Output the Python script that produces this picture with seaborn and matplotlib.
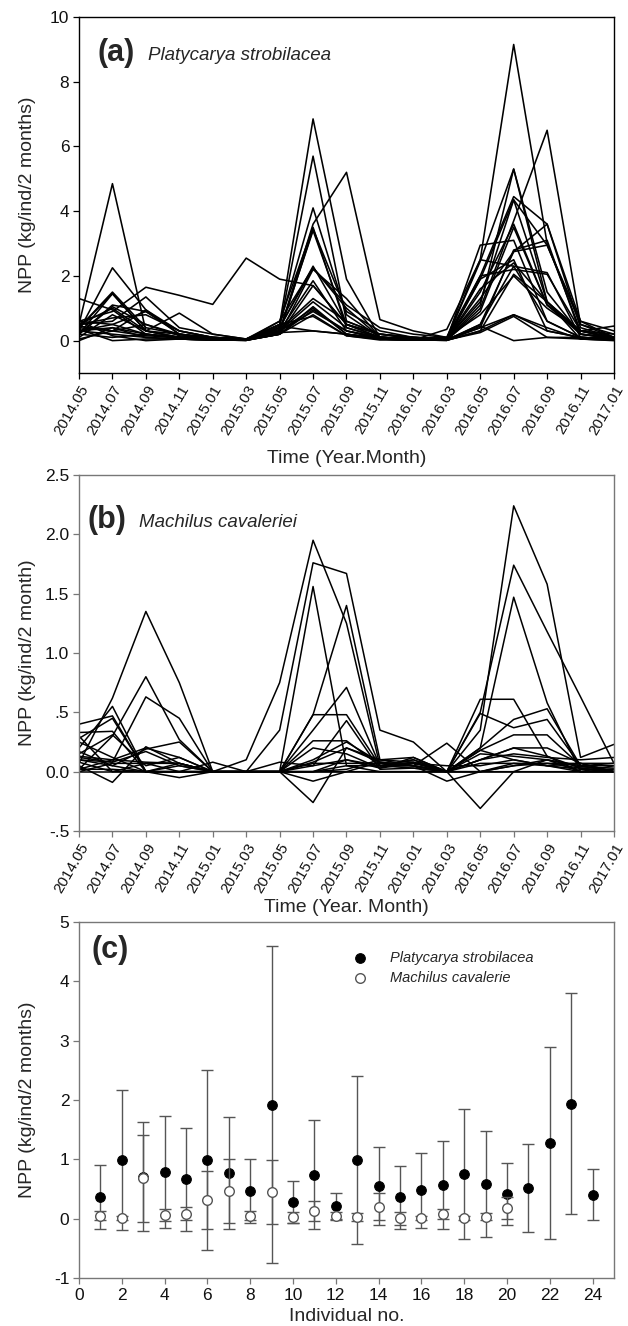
import pandas as pd
import matplotlib
matplotlib.use('Agg')
import matplotlib.pyplot as plt
import seaborn as sns

sns.set_theme(style='ticks')
plt.rcParams['font.family'] = ['Liberation Sans', 'DejaVu Sans']
plt.rcParams['axes.unicode_minus'] = False

# time axis (every 2 months)
months = ['2014.05', '2014.07', '2014.09', '2014.11', '2015.01', '2015.03',
          '2015.05', '2015.07', '2015.09', '2015.11', '2016.01', '2016.03',
          '2016.05', '2016.07', '2016.09', '2016.11', '2017.01']

# (a) Platycarya strobilacea, NPP per individual (kg/ind/2 months)
platy_npp = [
    [0.30, 0.50, 0.20, 0.10, 0.05, 0.02, 0.30, 0.90, 0.30, 0.10, 0.05, 0.02, 0.50, 2.30, 0.60, 0.10, 0.05],
    [0.50, 4.85, 0.30, 0.10, 0.05, 0.02, 0.60, 3.50, 0.40, 0.10, 0.05, 0.02, 1.90, 4.35, 1.20, 0.20, 0.10],
    [0.60, 0.90, 1.65, 1.40, 1.12, 2.55, 1.90, 1.70, 0.50, 0.20, 0.10, 0.05, 0.40, 0.80, 0.30, 0.10, 0.05],
    [0.40, 1.50, 0.40, 0.20, 0.05, 0.02, 0.40, 2.30, 0.50, 0.10, 0.05, 0.02, 1.50, 3.60, 1.10, 0.20, 0.10],
    [0.20, 1.10, 0.90, 0.30, 0.10, 0.05, 0.50, 6.85, 1.90, 0.10, 0.05, 0.10, 2.50, 9.15, 3.00, 0.30, 0.05],
    [1.30, 0.95, 0.20, 0.10, 0.05, 0.02, 0.40, 5.70, 0.60, 0.20, 0.10, 0.05, 2.45, 5.30, 1.20, 0.30, 0.10],
    [0.30, 2.25, 0.95, 0.30, 0.10, 0.05, 0.50, 4.10, 0.80, 0.10, 0.05, 0.02, 1.00, 3.70, 6.50, 0.50, 0.10],
    [0.50, 0.60, 1.35, 0.40, 0.20, 0.05, 0.30, 3.40, 0.50, 0.20, 0.10, 0.05, 2.95, 3.10, 0.60, 0.10, 0.05],
    [0.40, 1.45, 0.30, 0.85, 0.20, 0.05, 0.30, 3.60, 5.20, 0.65, 0.30, 0.10, 0.80, 2.00, 1.00, 0.30, 0.10],
    [0.10, 0.80, 0.30, 0.10, 0.05, 0.02, 0.20, 2.20, 1.30, 0.10, 0.05, 0.02, 0.50, 2.75, 3.60, 0.40, 0.10],
    [0.60, 0.50, 0.90, 0.20, 0.10, 0.02, 0.30, 1.85, 0.30, 0.10, 0.05, 0.02, 2.00, 2.20, 2.05, 0.30, 0.20],
    [0.30, 0.20, 0.10, 0.05, 0.02, 0.01, 0.20, 1.05, 0.20, 0.05, 0.02, 0.01, 0.40, 2.80, 3.10, 0.20, 0.05],
    [0.20, 1.05, 0.50, 0.20, 0.05, 0.02, 0.40, 2.25, 1.00, 0.10, 0.10, 0.05, 1.20, 4.35, 2.95, 0.60, 0.30],
    [0.50, 0.70, 0.80, 0.30, 0.10, 0.05, 0.35, 1.30, 0.60, 0.20, 0.05, 0.02, 0.25, 0.75, 0.10, 0.10, 0.05],
    [0.05, 0.30, 0.15, 0.10, 0.05, 0.02, 0.45, 0.30, 0.20, 0.10, 0.05, 0.02, 0.45, 0.00, 0.10, 0.05, 0.02],
    [0.30, 0.40, 0.20, 0.10, 0.05, 0.01, 0.20, 0.80, 0.15, 0.05, 0.02, 0.05, 1.60, 2.40, 1.20, 0.30, 0.10],
    [0.20, 1.45, 0.30, 0.10, 0.05, 0.02, 0.30, 1.20, 0.40, 0.10, 0.05, 0.02, 0.90, 3.50, 1.10, 0.30, 0.45],
    [0.40, 0.30, 0.95, 0.20, 0.05, 0.02, 0.20, 0.95, 0.30, 0.05, 0.02, 0.35, 2.50, 2.30, 2.10, 0.10, 0.02],
    [0.60, 0.15, 0.00, 0.05, 0.02, 0.01, 0.30, 1.00, 0.20, 0.05, 0.02, 0.01, 1.90, 2.50, 0.30, 0.10, 0.05],
    [0.00, 0.40, 0.10, 0.05, 0.02, 0.01, 0.50, 0.75, 0.15, 0.02, 0.02, 0.01, 0.30, 0.80, 0.40, 0.05, 0.02],
    [0.45, 0.30, 0.50, 0.15, 0.05, 0.02, 0.25, 3.45, 0.90, 0.30, 0.10, 0.05, 1.30, 2.75, 2.95, 0.50, 0.20],
    [0.35, 0.00, 0.05, 0.05, 0.02, 0.01, 0.20, 1.70, 0.50, 0.10, 0.05, 0.02, 1.10, 5.30, 1.50, 0.20, 0.05],
    [0.50, 1.00, 0.30, 0.20, 0.10, 0.05, 0.60, 2.25, 1.10, 0.40, 0.20, 0.10, 2.00, 4.45, 3.60, 0.60, 0.10],
    [0.20, 0.10, 0.20, 0.05, 0.02, 0.01, 0.25, 0.30, 0.20, 0.05, 0.02, 0.01, 0.30, 2.05, 1.20, 0.05, 0.00],
]

# (b) Machilus cavaleriei, NPP per individual (kg/ind/2 month)
machilus_npp = [
    [0.07, 0.62, 1.35, 0.75, 0.00, 0.00, 0.00, 0.08, 0.20, 0.10, 0.05, 0.00, 0.18, 0.10, 0.05, 0.00, 0.02],
    [0.02, 0.30, 0.80, 0.27, 0.00, 0.00, 0.00, 0.00, 0.10, 0.05, 0.08, 0.00, 0.10, 0.20, 0.13, 0.03, 0.00],
    [0.12, 0.08, 0.63, 0.45, 0.00, 0.00, 0.00, 0.35, 0.71, 0.05, 0.10, 0.00, 0.20, 0.44, 0.53, 0.05, 0.05],
    [0.20, 0.55, 0.00, 0.05, 0.00, 0.00, 0.00, 0.10, 0.25, 0.08, 0.05, 0.24, 0.00, 0.05, 0.07, 0.03, 0.00],
    [0.40, 0.47, 0.00, 0.00, 0.00, 0.00, 0.00, 0.00, 0.02, 0.10, 0.12, 0.00, 0.49, 0.37, 0.44, 0.05, 0.07],
    [0.33, 0.34, 0.00, 0.00, 0.08, 0.00, 0.00, 0.00, 0.00, 0.00, 0.00, 0.00, 0.00, 0.00, 0.00, 0.00, 0.00],
    [0.28, 0.45, 0.00, 0.00, 0.00, 0.10, 0.75, 1.95, 1.25, 0.05, 0.05, 0.00, 0.35, 2.24, 1.58, 0.12, 0.23],
    [0.15, 0.31, 0.05, 0.12, 0.00, 0.00, 0.35, 1.76, 1.67, 0.35, 0.25, 0.00, 0.50, 1.74, 1.18, 0.63, 0.07],
    [0.10, 0.05, 0.19, 0.25, 0.00, 0.00, 0.00, 1.56, 0.05, 0.05, 0.05, 0.00, 0.20, 1.47, 0.58, 0.00, 0.00],
    [0.05, -0.09, 0.21, 0.07, 0.00, 0.00, 0.00, 0.48, 1.40, 0.10, 0.08, 0.00, 0.61, 0.61, 0.13, 0.00, 0.05],
    [0.13, 0.10, 0.08, 0.07, 0.00, 0.00, 0.00, 0.48, 0.48, 0.05, 0.03, 0.00, 0.18, 0.31, 0.31, 0.05, 0.00],
    [0.17, 0.05, 0.00, -0.05, 0.00, 0.00, 0.00, 0.26, 0.26, 0.05, 0.10, 0.00, 0.10, 0.20, 0.20, 0.07, 0.00],
    [0.02, 0.10, 0.20, 0.12, 0.00, 0.00, 0.00, -0.26, 0.20, 0.08, 0.05, 0.00, -0.31, 0.00, 0.10, 0.05, 0.00],
    [0.08, 0.00, 0.07, 0.00, 0.00, 0.00, 0.00, -0.08, 0.00, 0.08, 0.05, -0.08, 0.00, 0.07, 0.05, 0.07, 0.00],
    [0.00, 0.07, 0.07, 0.07, 0.00, 0.00, 0.00, 0.07, 0.07, 0.07, 0.07, 0.00, 0.07, 0.07, 0.07, 0.07, 0.07],
    [0.30, 0.00, 0.00, 0.00, 0.00, 0.00, 0.00, 0.05, 0.43, 0.02, 0.03, 0.00, 0.10, 0.15, 0.12, 0.10, 0.12],
    [0.00, 0.00, 0.00, 0.00, 0.00, 0.00, 0.00, 0.00, 0.00, 0.00, 0.00, 0.00, 0.00, 0.00, 0.00, 0.00, 0.00],
    [0.25, 0.12, 0.00, 0.07, 0.00, 0.00, 0.00, 0.20, 0.15, 0.03, 0.12, 0.00, 0.15, 0.13, 0.10, 0.04, 0.03],
    [0.10, 0.08, 0.17, 0.05, 0.00, 0.00, 0.08, 0.05, 0.10, 0.03, 0.07, 0.05, 0.05, 0.10, 0.05, 0.02, 0.02],
    [0.02, 0.02, 0.00, 0.00, 0.00, 0.00, 0.00, 0.00, 0.05, 0.00, 0.00, 0.00, 0.00, 0.05, 0.10, 0.00, 0.00],
]

# (c) mean +- SD per individual
platy_ind = list(range(1, 25))
platy_mean = [0.37, 0.99, 0.71, 0.79, 0.66, 0.99, 0.77, 0.46, 1.92, 0.28, 0.74, 0.21,
              0.99, 0.55, 0.36, 0.48, 0.57, 0.75, 0.58, 0.42, 0.52, 1.27, 1.94, 0.40]
platy_sd = [0.54, 1.18, 0.92, 0.94, 0.86, 1.51, 0.94, 0.54, 2.67, 0.36, 0.92, 0.23,
            1.42, 0.65, 0.53, 0.63, 0.74, 1.10, 0.89, 0.52, 0.74, 1.62, 1.86, 0.43]
mach_ind = list(range(1, 21))
mach_mean = [0.05, 0.01, 0.68, 0.06, 0.08, 0.32, 0.46, 0.05, 0.45, 0.02,
             0.13, 0.05, 0.03, 0.20, 0.01, 0.01, 0.08, 0.01, 0.03, 0.18]
mach_sd = [0.08, 0.04, 0.73, 0.10, 0.11, 0.49, 0.54, 0.08, 0.54, 0.10,
           0.17, 0.06, 0.07, 0.23, 0.11, 0.04, 0.09, 0.04, 0.06, 0.19]


def to_long(rows):
    recs = []
    for i, row in enumerate(rows):
        for t, v in enumerate(row):
            recs.append({'ind': i + 1, 't': t, 'npp': v})
    return pd.DataFrame(recs)


df_a = to_long(platy_npp)
df_b = to_long(machilus_npp)
df_c1 = pd.DataFrame({'ind': platy_ind, 'npp': platy_mean, 'sd': platy_sd})
df_c2 = pd.DataFrame({'ind': mach_ind, 'npp': mach_mean, 'sd': mach_sd})

fig = plt.figure(figsize=(6.28, 13.26), dpi=100)
ax_a = fig.add_axes([0.1258, 0.7187, 0.8519, 0.2685])
ax_b = fig.add_axes([0.1258, 0.3733, 0.8519, 0.2685])
ax_c = fig.add_axes([0.1258, 0.0362, 0.8519, 0.2685])

lab_fs = 14

# ---- panel (a)
sns.lineplot(data=df_a, x='t', y='npp', units='ind', estimator=None,
             color='black', linewidth=1.15, ax=ax_a, legend=False)
ax_a.set_xlim(0, 16)
ax_a.set_ylim(-1, 10)
ax_a.set_yticks([0, 2, 4, 6, 8, 10])
ax_a.set_xticks(range(len(months)))
ax_a.set_xticklabels(months, rotation=60, ha='right', rotation_mode='anchor')
ax_a.set_ylabel('NPP (kg/ind/2 months)', fontsize=lab_fs)
ax_a.set_xlabel('Time (Year.Month)', fontsize=lab_fs)
ax_a.yaxis.set_label_coords(-0.08, 0.5)
ax_a.xaxis.set_label_coords(0.5, -0.215)
ax_a.text(0.035, 0.90, '(a)', transform=ax_a.transAxes, fontsize=22,
          fontweight='bold', va='center')
ax_a.text(0.129, 0.893, 'Platycarya strobilacea', transform=ax_a.transAxes,
          fontsize=13.5, style='italic', va='center')

# ---- panel (b)
sns.lineplot(data=df_b, x='t', y='npp', units='ind', estimator=None,
             color='black', linewidth=1.1, ax=ax_b, legend=False)
ax_b.set_xlim(0, 16)
ax_b.set_ylim(-0.5, 2.5)
ax_b.set_yticks([-0.5, 0, 0.5, 1.0, 1.5, 2.0, 2.5])
ax_b.set_yticklabels(['-.5', '0.0', '.5', '1.0', '1.5', '2.0', '2.5'])
ax_b.set_xticks(range(len(months)))
ax_b.set_xticklabels(months, rotation=60, ha='right', rotation_mode='anchor')
ax_b.set_ylabel('NPP (kg/ind/2 month)', fontsize=lab_fs)
ax_b.set_xlabel('Time (Year. Month)', fontsize=lab_fs)
ax_b.yaxis.set_label_coords(-0.08, 0.5)
ax_b.xaxis.set_label_coords(0.5, -0.19)
ax_b.text(0.015, 0.874, '(b)', transform=ax_b.transAxes, fontsize=22,
          fontweight='bold', va='center')
ax_b.text(0.112, 0.866, 'Machilus cavaleriei', transform=ax_b.transAxes,
          fontsize=13.5, style='italic', va='center')

# ---- panel (c)
ax_c.errorbar(df_c1['ind'], df_c1['npp'], yerr=df_c1['sd'], fmt='none',
              ecolor='#555555', elinewidth=1.0, capsize=4, capthick=1.0, zorder=2)
sns.scatterplot(data=df_c1, x='ind', y='npp', marker='o', color='black',
                edgecolor='black', s=48, linewidth=0.8, zorder=3, ax=ax_c,
                label='Platycarya strobilacea')
ax_c.errorbar(df_c2['ind'], df_c2['npp'], yerr=df_c2['sd'], fmt='none',
              ecolor='#555555', elinewidth=1.0, capsize=4, capthick=1.0, zorder=4)
sns.scatterplot(data=df_c2, x='ind', y='npp', marker='o', color='white',
                edgecolor='#555555', s=48, linewidth=1.0, zorder=5, ax=ax_c,
                label='Machilus cavalerie')
ax_c.set_xlim(0, 25)
ax_c.set_ylim(-1, 5)
ax_c.set_xticks(range(0, 25, 2))
ax_c.set_yticks(range(-1, 6))
ax_c.set_ylabel('NPP (kg/ind/2 months)', fontsize=lab_fs)
ax_c.set_xlabel('Individual no.', fontsize=lab_fs)
ax_c.yaxis.set_label_coords(-0.08, 0.5)
ax_c.xaxis.set_label_coords(0.5, -0.083)
ax_c.text(0.024, 0.92, '(c)', transform=ax_c.transAxes, fontsize=22,
          fontweight='bold', va='center')
leg = ax_c.legend(loc='upper left', bbox_to_anchor=(0.485, 0.955), frameon=False,
                  handlelength=1.2, handletextpad=1.4, labelspacing=0.4,
                  prop={'style': 'italic', 'size': 10.5})

for ax, sc in [(ax_a, 'black'), (ax_b, '#777777'), (ax_c, '#777777')]:
    for s in ax.spines.values():
        s.set_color(sc)
        s.set_linewidth(1.0)
    ax.tick_params(axis='both', direction='out', length=4, width=0.9,
                   color=sc, labelcolor='#111111', pad=3)
    ax.tick_params(axis='y', labelsize=12.5)
    ax.tick_params(axis='x', labelsize=11 if ax is not ax_c else 12.5)

fig.savefig('out.png', dpi=100)
